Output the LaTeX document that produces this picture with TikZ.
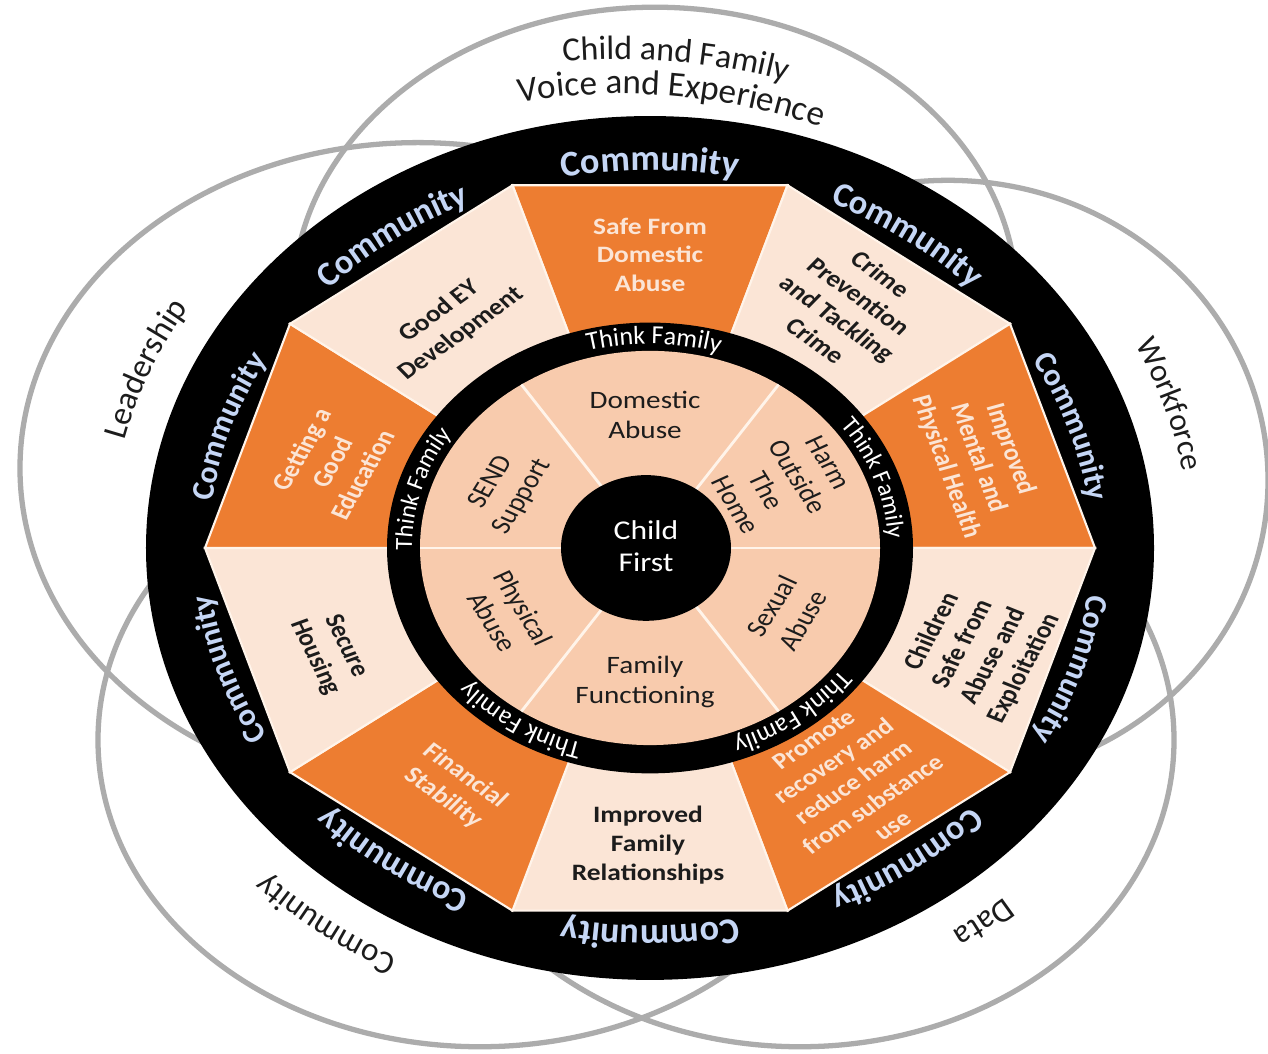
\documentclass[tikz,border=0pt]{standalone}
\usepackage{fontspec}
\setmainfont{Carlito}
\usetikzlibrary{decorations.text}

\definecolor{segorange}{RGB}{237,125,49}
\definecolor{segpeach}{RGB}{251,229,214}
\definecolor{segline}{RGB}{255,244,234}
\definecolor{diskpeach}{RGB}{248,203,173}
\definecolor{commblue}{RGB}{197,214,245}
\definecolor{venngray}{RGB}{172,172,172}
\definecolor{labeldark}{RGB}{28,28,28}

\begin{document}
\begin{tikzpicture}[x=0.01cm, y=0.01cm, yscale=0.857,
	venn/.style={draw=venngray, line width=1.5pt},
	orangeseg/.style={fill=segorange, draw=segline, line width=0.6pt},
	peachseg/.style={fill=segpeach, draw=segline, line width=0.6pt},
	divider/.style={draw=segline, line width=0.8pt},
	seglabel/.style={align=center, inner sep=0pt, text=labeldark, transform shape,
		font=\fontsize{7.8}{9.6}\selectfont\bfseries},
	orangelabel/.style={seglabel, text=segpeach},
	disklabel/.style={align=center, inner sep=0pt, text=labeldark, transform shape,
		font=\fontsize{8.3}{10}\selectfont},
	ringtext/.style={decorate, decoration={text along path, text align=center,
		text={|\fontsize{#1}{12}\selectfont\bfseries\color{commblue}|Community}}},
	thinktext/.style={decorate, decoration={text along path, text align=center,
		text={|\fontsize{#1}{9}\selectfont\color{white}|Think Family}}},
	outertext/.style 2 args={decorate, decoration={text along path, text align=center,
		text={|\fontsize{#1}{12}\selectfont\color{labeldark}|#2}}}]

	\fill[white] (-650,-590.4) rectangle (618,639.4);
	\useasboundingbox (-650,-590.4) rectangle (618,639.4);

	% the five outer circles
	\draw[venn] (5,289) ellipse [x radius=362, y radius=342];
	\draw[venn] (298,79) ellipse [x radius=320, y radius=350];
	\draw[venn] (-170,-224) ellipse [x radius=382, y radius=358];
	\draw[venn] (150,-224) ellipse [x radius=374, y radius=358];
	\draw[venn] (-232,93) ellipse [x radius=398, y radius=380];

	% community ring
	\fill[black] (0,0) circle [radius=504];

	% decagon of outcomes
	\filldraw[orangeseg] (0,0) -- (108:445) -- (72:445) -- cycle;
	\filldraw[peachseg] (0,0) -- (72:445) -- (36:445) -- cycle;
	\filldraw[orangeseg] (0,0) -- (36:445) -- (0:445) -- cycle;
	\filldraw[peachseg] (0,0) -- (0:445) -- (-36:445) -- cycle;
	\filldraw[orangeseg] (0,0) -- (-36:445) -- (-72:445) -- cycle;
	\filldraw[peachseg] (0,0) -- (-72:445) -- (-108:445) -- cycle;
	\filldraw[orangeseg] (0,0) -- (-108:445) -- (-144:445) -- cycle;
	\filldraw[peachseg] (0,0) -- (-144:445) -- (-180:445) -- cycle;
	\filldraw[orangeseg] (0,0) -- (180:445) -- (144:445) -- cycle;
	\filldraw[peachseg] (0,0) -- (144:445) -- (108:445) -- cycle;

	% think family ring and inner disk
	\fill[black] (0,0) circle [radius=263];
	\fill[diskpeach] (0,0) circle [radius=230];
	\draw[divider] (0,0) -- (0:230);
	\draw[divider] (0,0) -- (56:230);
	\draw[divider] (0,0) -- (124:230);
	\draw[divider] (0,0) -- (180:230);
	\draw[divider] (0,0) -- (-124:230);
	\draw[divider] (0,0) -- (-56:230);
	\fill[black] (-4,0) circle [radius=85];

	% ring texts
	\path[ringtext=10.3] (115:441) arc[start angle=115, end angle=65, radius=441];
	\path[ringtext=9.8] (79:441) arc[start angle=79, end angle=29, radius=441];
	\path[ringtext=9] (43:441) arc[start angle=43, end angle=-7, radius=441];
	\path[ringtext=9] (7:441) arc[start angle=7, end angle=-43, radius=441];
	\path[ringtext=9.8] (-29:441) arc[start angle=-29, end angle=-79, radius=441];
	\path[ringtext=10.3] (-65:441) arc[start angle=-65, end angle=-115, radius=441];
	\path[ringtext=9.8] (-101:441) arc[start angle=-101, end angle=-151, radius=441];
	\path[ringtext=9] (-137:441) arc[start angle=-137, end angle=-187, radius=441];
	\path[ringtext=9] (187:441) arc[start angle=187, end angle=137, radius=441];
	\path[ringtext=9.8] (151:441) arc[start angle=151, end angle=101, radius=441];

	\path[thinktext=7.4] (124:238) arc[start angle=124, end angle=54, radius=238];
	\path[thinktext=7] (54:238) arc[start angle=54, end angle=-16, radius=238];
	\path[thinktext=7.3] (-17:238) arc[start angle=-17, end angle=-87, radius=238];
	\path[thinktext=7.3] (-89:238) arc[start angle=-89, end angle=-159, radius=238];
	\path[thinktext=7] (199:238) arc[start angle=199, end angle=129, radius=238];

	% circle names
	\path[outertext={9.6}{Child and Family}, shift={(-30,0)}] (104.3:570) arc[start angle=104.3, end angle=64.3, radius=570];
	\path[outertext={10}{Voice and Experience}, shift={(-30,0)}] (109.3:530) arc[start angle=109.3, end angle=59.3, radius=530];
	\path[outertext={9.5}{Leadership}] (178:540) arc[start angle=178, end angle=138, radius=540];
	\path[outertext={9}{Workforce}] (37.5:540) arc[start angle=37.5, end angle=-2.5, radius=540];
	\path[outertext={9.4}{Data}] (-32:540) arc[start angle=-32, end angle=-72, radius=540];
	\path[outertext={9.4}{Community}] (-107:540) arc[start angle=-107, end angle=-147, radius=540];

	% outcome labels
	\node[orangelabel] (safe) at (0,342) {Safe From\\Domestic\\Abuse};
	\node[seglabel, rotate=-40] (crime) at (198,281) {Crime\\Prevention\\and Tackling\\Crime};
	\node[orangelabel, rotate=-72] (mental) at (328,105) {Improved\\Mental and\\Physical Health};
	\node[seglabel, rotate=65] (children) at (328,-119) {Children\\Safe from\\Abuse and\\Exploitation};
	\node[orangelabel, rotate=38, font=\fontsize{7.6}{9.1}\selectfont\bfseries] (promote) at (203,-274) {Promote\\recovery and\\reduce harm\\from substance\\use};
	\node[seglabel] (relations) at (-2,-347) {Improved\\Family\\Relationships};
	\node[orangelabel, rotate=-40] (finance) at (-196,-279) {Financial\\Stability};
	\node[seglabel, rotate=-67] (housing) at (-320,-121) {Secure\\Housing};
	\node[orangelabel, rotate=64] (education) at (-318,100) {Getting a\\Good\\Education};
	\node[seglabel, rotate=40] (eydev) at (-200,263) {Good EY\\Development};

	% inner disk labels
	\node[disklabel] (domestic) at (-5,155) {Domestic\\Abuse};
	\node[disklabel, rotate=-62] (harm) at (132,75) {Harm\\Outside\\The\\Home};
	\node[disklabel, rotate=62] (sexual) at (137,-76) {Sexual\\Abuse};
	\node[disklabel] (functioning) at (-5,-156) {Family\\Functioning};
	\node[disklabel, rotate=-62] (physical) at (-142,-78) {Physical\\Abuse};
	\node[disklabel, rotate=62] (send) at (-143,68) {SEND\\Support};
	\node[align=center, inner sep=0pt, text=white, transform shape,
		font=\fontsize{9}{10.6}\selectfont] (child) at (-4,2) {Child\\First};
\end{tikzpicture}
\end{document}
